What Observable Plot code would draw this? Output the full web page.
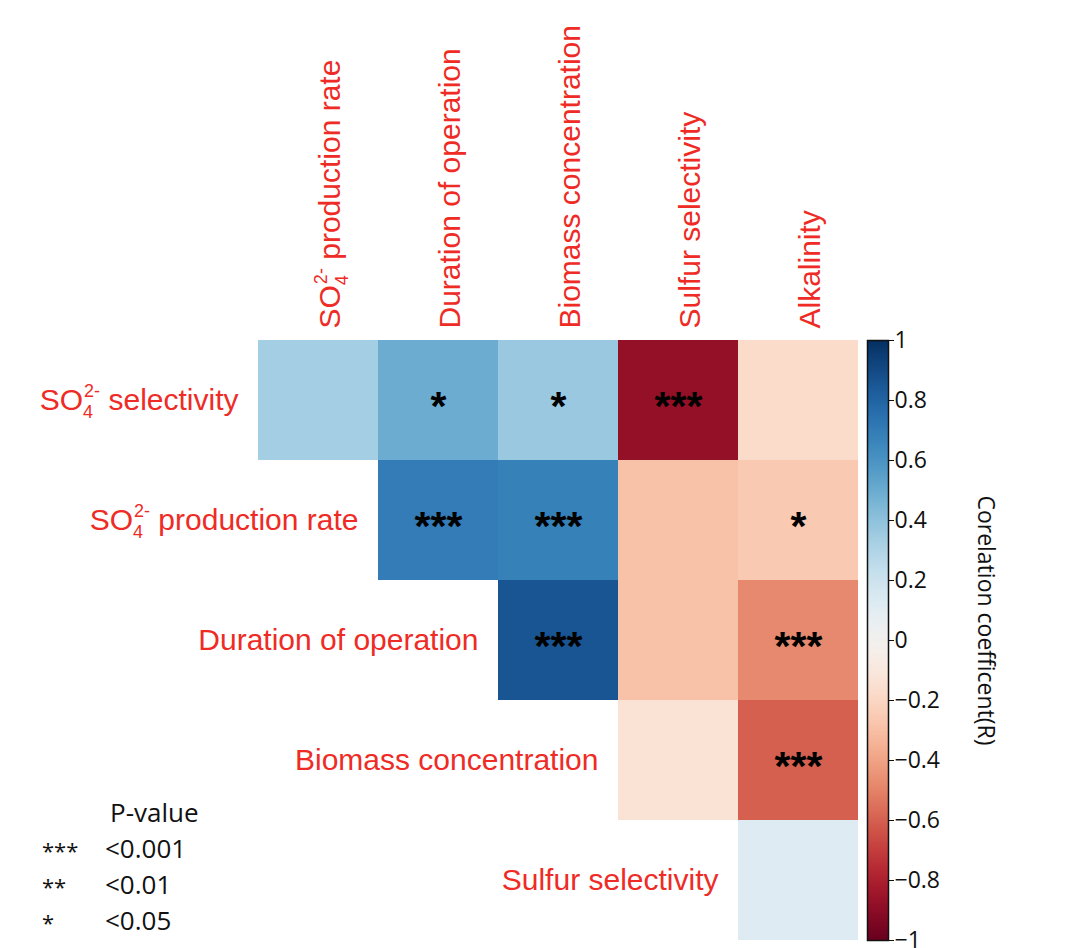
<!DOCTYPE html>
<html><head><meta charset="utf-8">
<script src="https://cdn.jsdelivr.net/npm/d3@7"></script>
<script src="https://cdn.jsdelivr.net/npm/@observablehq/plot@0.6"></script>
<style>
body{margin:0;background:#fff;}
#wrap{position:relative;width:1081px;height:948px;background:#fff;}
#wrap svg{position:absolute;left:0;top:0;}
.leg{position:absolute;font-family:"Open Sans",sans-serif;font-size:22px;line-height:1;color:#111;white-space:nowrap;}
</style></head><body>
<div id="wrap"></div>
<script>
// Row and column labels (upper-triangular correlation matrix)
const rows = ["SO₄²⁻ selectivity", "SO₄²⁻ production rate", "Duration of operation", "Biomass concentration", "Sulfur selectivity"];
const cols = ["SO₄²⁻ production rate", "Duration of operation", "Biomass concentration", "Sulfur selectivity", "Alkalinity"];

// Correlation coefficients, row by row (row i starts at column i)
const rSelectivity = [0.34, 0.50, 0.37, -0.88, -0.18];
const rProduction  = [0.70, 0.68, -0.29, -0.26];
const rDuration    = [0.86, -0.29, -0.48];
const rBiomass     = [-0.14, -0.60];
const rSulfur      = [0.12];

// Significance marks
const sSelectivity = ["", "*", "*", "***", ""];
const sProduction  = ["***", "***", "", "*"];
const sDuration    = ["***", "", "***"];
const sBiomass     = ["", "***"];
const sSulfur      = [""];

const cbTicks = [-1, -0.8, -0.6, -0.4, -0.2, 0, 0.2, 0.4, 0.6, 0.8, 1];
const cbTitle = "Corelation coefficent(R)";
const legendTitle = "P-value";
const legendSymbols = ["***", "**", "*"];
const legendLabels = ["<0.001", "<0.01", "<0.05"];

const rowVals = [rSelectivity, rProduction, rDuration, rBiomass, rSulfur];
const rowSig = [sSelectivity, sProduction, sDuration, sBiomass, sSulfur];
const cells = [];
rowVals.forEach((vals, i) => vals.forEach((v, j) => cells.push({row: rows[i], col: cols[i + j], r: v, sig: rowSig[i][j]})));

const red = "#ee2b25";
const colorOpts = {type: "diverging", scheme: "RdBu", domain: [-1, 1], pivot: 0};

const main = Plot.plot({
  width: 1081, height: 948,
  marginLeft: 258, marginRight: 223, marginTop: 340, marginBottom: 8,
  x: {domain: cols, axis: null, padding: 0},
  y: {domain: rows, axis: null, padding: 0},
  color: colorOpts,
  style: {fontFamily: "'Liberation Sans', Arial, sans-serif", background: "transparent"},
  marks: [
    Plot.cell(cells, {x: "col", y: "row", fill: "r", inset: 0}),
    Plot.text(cells, {x: "col", y: "row", text: "sig", fontSize: 41, fontWeight: "bold", dy: 6, fill: "black"}),
    Plot.text(cols, {x: d => d, frameAnchor: "top", rotate: -90, textAnchor: "start", dy: -12, fontSize: 30, fill: red}),
    Plot.text(rows, {x: (d, i) => cols[i], y: d => d, textAnchor: "end", dx: -80, fontSize: 30, fill: red})
  ]
});

// chemical notation: subscript 4 with stacked superscript 2-
main.querySelectorAll("text").forEach(t => {
  const s = t.textContent;
  if (!s.startsWith("SO₄²⁻")) return;
  const rest = s.slice(5);
  while (t.firstChild) t.removeChild(t.firstChild);
  const mk = (txt, attrs) => {
    const ts = document.createElementNS("http://www.w3.org/2000/svg", "tspan");
    ts.textContent = txt;
    for (const k in attrs) ts.setAttribute(k, attrs[k]);
    t.appendChild(ts);
  };
  mk("SO", {});
  mk("4", {"font-size": "18", "dy": "8"});
  mk("2-", {"font-size": "18", "dx": "-9", "dy": "-21"});
  mk(rest, {"dy": "13"});
});

const cb = Plot.plot({
  width: 1081, height: 948,
  marginLeft: 867, marginRight: 193, marginTop: 340, marginBottom: 8,
  x: {domain: [0, 1], axis: null},
  y: {domain: [-1, 1], axis: null},
  color: colorOpts,
  style: {fontFamily: "'Open Sans', sans-serif", background: "transparent", color: "#111"},
  marks: [
    Plot.raster({x1: 0, x2: 1, y1: -1, y2: 1, width: 1, height: 400, fill: (x, y) => y, imageRendering: "auto"}),
    Plot.frame({stroke: "#111", strokeWidth: 1.5}),
    Plot.axisY({anchor: "right", ticks: cbTicks, tickFormat: d3.format("~g"), tickSize: 5, tickPadding: 1, fontSize: 23}),
    Plot.text([cbTitle], {frameAnchor: "right", rotate: 90, textAnchor: "middle", dx: 97, dy: -20, fontSize: 23, fill: "#111"})
  ]
});

const wrap = document.getElementById("wrap");
wrap.appendChild(main);
wrap.appendChild(cb);

const addLeg = (txt, left, centerY, size) => {
  const d = document.createElement("div");
  d.className = "leg";
  d.textContent = txt;
  d.style.left = left + "px";
  d.style.top = (centerY - size * 0.55) + "px";
  d.style.fontSize = size + "px";
  wrap.appendChild(d);
};
addLeg(legendTitle, 110, 813, 26);
const rowY = [849, 885, 921];
legendSymbols.forEach((s, i) => addLeg(s, 42, rowY[i] + 2, 22));
legendLabels.forEach((s, i) => addLeg(s, 105, rowY[i], 26));
</script>
</body></html>
